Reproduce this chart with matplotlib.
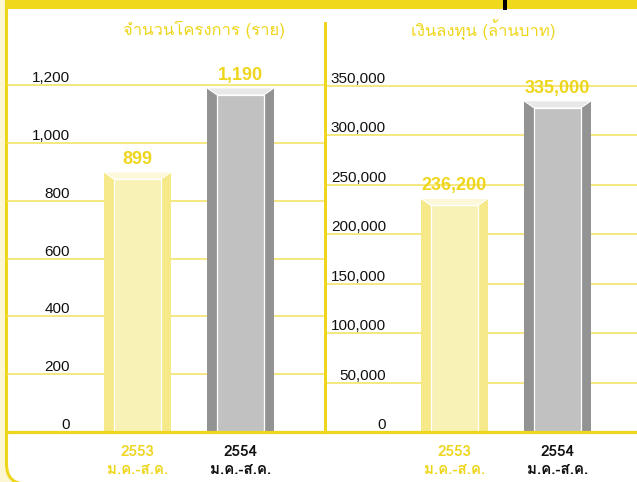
import matplotlib
matplotlib.use('Agg')
import matplotlib.pyplot as plt
import matplotlib.transforms as mtransforms
from matplotlib import font_manager
from matplotlib.ft2font import FT2Font
from matplotlib.patches import Polygon, Rectangle, FancyBboxPatch
import numpy as np

# data
periods = ['2553', '2554']
period_sub = 'ม.ค.-ส.ค.'
projects = [899, 1190]
investment = [236200, 335000]
project_ticks = [0, 200, 400, 600, 800, 1000, 1200]
invest_ticks = [0, 50000, 100000, 150000, 200000, 250000, 300000, 350000]
title_left = 'จำนวนโครงการ (ราย)'
title_right = 'เงินลงทุน (ล้านบาท)'

YELLOW = '#efd61e'
GRID = '#f3e05e'
CREAM = '#fcf6d2'


def find_thai_font():
    for f in font_manager.fontManager.ttflist:
        try:
            cmap = FT2Font(f.fname).get_charmap()
        except Exception:
            continue
        if 0x0E08 in cmap and 0x0E2A in cmap:
            return f.name
    return None


thai = find_thai_font()
fams = ([thai] if thai else []) + ['Liberation Sans', 'DejaVu Sans']
plt.rcParams['font.family'] = fams

W, H = 637, 482
fig = plt.figure(figsize=(W / 100, H / 100), dpi=100, facecolor=CREAM)

# white panel with rounded yellow border
box = FancyBboxPatch((6.5, -2), 680, 520, boxstyle='round,pad=0,rounding_size=20',
                     facecolor='white', edgecolor=YELLOW, linewidth=2.2,
                     transform=None, zorder=-2)
fig.add_artist(box)
fig.add_artist(Rectangle((5, H - 9), W, 9, facecolor='#f0d91c', edgecolor='none',
                         transform=None, zorder=5))
fig.add_artist(Rectangle((503, H - 10), 4, 10, facecolor='black', edgecolor='none',
                         transform=None, zorder=6))

BASE = 432  # baseline pixel from top
TOP = 20
ax_h = BASE - TOP


def make_axes(left, width):
    return fig.add_axes([left / W, (H - BASE) / H, width / W, ax_h / H], facecolor='none')


def draw_panel(ax, vals, ticks, top_tick, top_px, title, title_x, tick_right, xcenter0):
    ymax = top_tick * ax_h / (BASE - top_px)
    ax.set_ylim(0, ymax)
    width_px = ax.get_position().width * W
    ax.set_xlim(-xcenter0 / 103, (width_px - xcenter0) / 103)
    per_px = ymax / ax_h
    for s in ax.spines.values():
        s.set_visible(False)
    ax.set_xticks([])
    ax.set_yticks([])

    for t in ticks:
        if t > 0:
            ax.axhline(t, color=GRID, lw=1.1, zorder=1)
        ax.annotate(f'{t:,}', xy=(tick_right / width_px, t),
                    xycoords=mtransforms.blended_transform_factory(ax.transAxes, ax.transData),
                    xytext=(0, 3), textcoords='offset pixels', ha='right', va='baseline',
                    fontsize=11, color='#111111', family='Liberation Sans')
    ax.axhline(0, color=YELLOW, lw=2.3, zorder=6, clip_on=False)

    xs = np.arange(len(vals))
    bw, iw = 67 / 103, 47 / 103
    top_h = 7 * per_px
    styles = [('#f6e98a', '#f9f2b6', '#fdf8da'), ('#939393', '#c1c1c1', '#e8e8e8')]
    for x, v, (side, face, cap) in zip(xs, vals, styles):
        ax.bar(x, v, width=bw, color=side, zorder=2)
        ax.bar(x, v - top_h, width=iw, color=face, edgecolor='white', linewidth=0.9, zorder=3)
        ax.add_patch(Polygon([(x - bw / 2, v), (x + bw / 2, v), (x + iw / 2, v - top_h),
                              (x - iw / 2, v - top_h)], closed=True, facecolor=cap,
                             edgecolor='white', linewidth=0.8, zorder=4))
        ax.annotate(f'{v:,}', xy=(x, v), xytext=(0, 4), textcoords='offset pixels',
                    ha='center', va='bottom', fontsize=13, fontweight='bold',
                    color=YELLOW, family='Liberation Sans', zorder=7)

    lab_tr = mtransforms.blended_transform_factory(ax.transData, ax.transAxes)
    for x, p in zip(xs, periods):
        col = YELLOW if x == 0 else '#111111'
        ax.text(x, -20 / ax_h, p, transform=lab_tr, ha='center', va='center',
                fontsize=11, color=col, fontweight='bold', clip_on=False)
        ax.text(x, -38 / ax_h, period_sub, transform=lab_tr, ha='center', va='center',
                fontsize=11, color=col, fontweight='bold', clip_on=False)

    fig.text(title_x / W, 1 - 30 / H, title, ha='center', va='center',
             fontsize=12, color=YELLOW)


ax1 = make_axes(7, 318)
draw_panel(ax1, projects, project_ticks, 1200, 85, title_left, 204, 63, 130.5)
ax2 = make_axes(327, 310)
draw_panel(ax2, investment, invest_ticks, 350000, 86, title_right, 483, 59, 127.5)

# divider between the panels
fig.add_artist(Rectangle((324, H - BASE), 3, BASE - 22, facecolor=YELLOW,
                         edgecolor='none', transform=None, zorder=5))

fig.savefig('out.png', dpi=100, facecolor=CREAM)
